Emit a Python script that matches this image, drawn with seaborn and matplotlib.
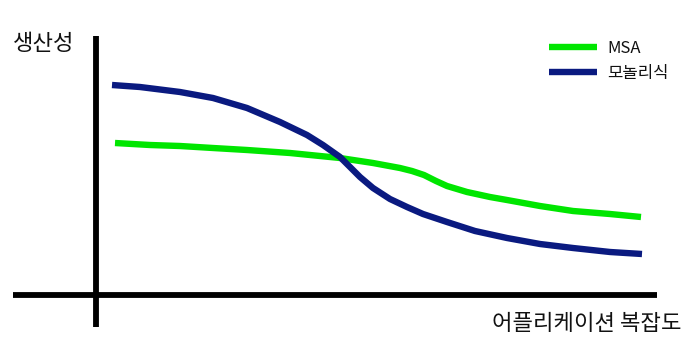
import matplotlib
matplotlib.use("Agg")
import matplotlib.pyplot as plt
import seaborn as sns
import pandas as pd

sns.set_theme(style="white")
plt.rcParams['font.family'] = ['Noto Sans CJK KR', 'DejaVu Sans']

# Data (x: application complexity, y: screen-like height, smaller = more productive)
msa_x = [115, 150, 180, 213, 247, 290, 320, 340, 373, 400, 412, 424, 436, 447, 467, 490, 507, 540, 573, 610, 641]
msa_y = [143, 145, 146, 148, 150, 153, 156, 158, 163, 168, 171, 175, 181, 186, 192, 197, 200, 206, 211, 214, 217]
mono_x = [112, 140, 180, 213, 247, 280, 307, 323, 340, 350, 360, 373, 390, 407, 423, 447, 475, 507, 540, 573, 610, 642]
mono_y = [85, 87, 92, 98, 108, 122, 135, 145, 157, 167, 177, 188, 199, 207, 214, 222, 231, 238, 244, 248, 252, 254]

series_names = ["MSA", "모놀리식"]
series_colors = ["#00e600", "#0a1a80"]
y_label = "생산성"
x_label = "어플리케이션 복잡도"

df = pd.concat([
    pd.DataFrame({"x": msa_x, "y": msa_y, "s": series_names[0]}),
    pd.DataFrame({"x": mono_x, "y": mono_y, "s": series_names[1]}),
])

fig = plt.figure(figsize=(7.0, 3.49), dpi=100)
ax = fig.add_axes([0, 0, 1, 1])
ax.set_xlim(0, 700)
ax.set_ylim(349, 0)
ax.axis("off")

# axes lines
ax.plot([96, 96], [36, 327], color="black", lw=4.2, solid_capstyle="butt")
ax.plot([13, 657], [295, 295], color="black", lw=4.2, solid_capstyle="butt")

sns.lineplot(data=df, x="x", y="y", hue="s", palette=series_colors,
             hue_order=series_names, sort=False, lw=4.6, ax=ax, legend=True)
for ln in ax.get_lines():
    ln.set_solid_capstyle("butt")
    ln.set_solid_joinstyle("round")

leg = ax.legend(loc="upper left", bbox_to_anchor=(549/700, 1 - 40/349),
                frameon=False, fontsize=12, handlelength=2.9,
                handletextpad=0.6, labelspacing=0.5, borderaxespad=0,
                borderpad=0)
for h in leg.get_lines():
    h.set_linewidth(4.6)
for t in leg.get_texts():
    t.set_color("#111111")

ax.text(13, 43, y_label, fontsize=16, va="center", ha="left", color="#111111")
ax.text(681, 323, x_label, fontsize=16, va="center", ha="right", color="#111111")

fig.savefig("out.png", dpi=100)
